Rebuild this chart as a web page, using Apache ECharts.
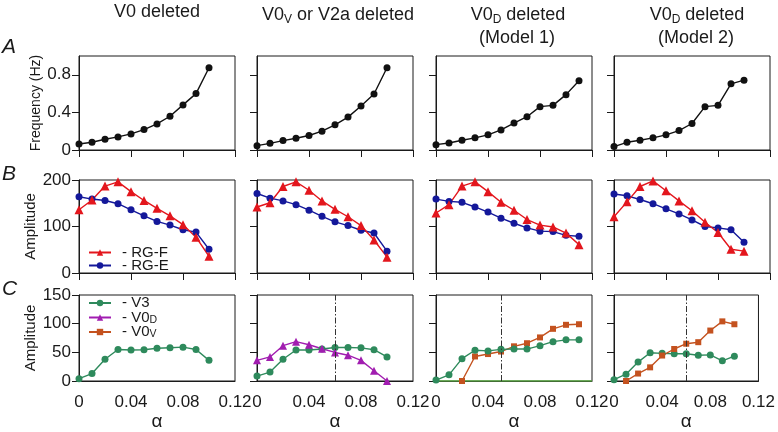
<!DOCTYPE html>
<html>
<head>
<meta charset="utf-8">
<script src="https://cdn.jsdelivr.net/npm/echarts@6/dist/echarts.min.js"></script>
<style>
  html, body { margin: 0; padding: 0; background: #fff; }
  #chart { width: 778px; height: 432px; }
</style>
</head>
<body>
<div id="chart"></div>
<script>
// ── Data ──────────────────────────────────────────────────────────────────
const alpha11 = [0, 0.01, 0.02, 0.03, 0.04, 0.05, 0.06, 0.07, 0.08, 0.09, 0.10]
const alpha12 = [0, 0.01, 0.02, 0.03, 0.04, 0.05, 0.06, 0.07, 0.08, 0.09, 0.10, 0.11]
const alphaEnds = [0, 0.12]

// row A – frequency (Hz)
const freqV0 = [0.064, 0.082, 0.114, 0.139, 0.171, 0.217, 0.277, 0.359, 0.48, 0.60, 0.875]
const freqV0V = [0.046, 0.071, 0.10, 0.125, 0.154, 0.20, 0.268, 0.35, 0.468, 0.596, 0.875]
const freqM1 = [0.057, 0.075, 0.104, 0.129, 0.161, 0.214, 0.286, 0.354, 0.461, 0.475, 0.589, 0.736]
const freqM2 = [0.036, 0.082, 0.104, 0.129, 0.161, 0.207, 0.282, 0.461, 0.475, 0.704, 0.743]

// row B – RG amplitudes
const rgfV0 = [136, 157, 187, 196, 175, 156, 139, 123, 104, 77, 36]
const rgeV0 = [164, 159, 156, 149, 136, 123, 111, 103, 93, 88, 51]
const rgfV0V = [142, 151, 186, 196, 178, 155, 137, 121, 102, 71, 34]
const rgeV0V = [171, 161, 155, 147, 135, 122, 110, 102, 92, 86, 47]
const rgfM1 = [129, 147, 187, 196, 175, 152, 135, 115, 103, 99, 86, 61]
const rgeM1 = [159, 154, 152, 142, 131, 118, 107, 97, 90, 89, 81, 79]
const rgfM2 = [121, 153, 186, 198, 177, 155, 134, 109, 87, 51, 47]
const rgeM2 = [170, 166, 158, 149, 138, 127, 114, 100, 97, 93, 66]

// row C – interneuron amplitudes
const v3V0 = [4, 13, 38, 55, 54, 54.5, 57, 58, 59, 55, 36]
const v3V0V = [8.6, 15.5, 38, 54, 54, 55.7, 58.4, 58.4, 57.8, 54.6, 42]
const v0dV0V = [36, 42, 61.6, 68.6, 63.3, 56.3, 49.8, 45, 36, 18, 0]
const v3M1 = [1.6, 10.7, 39, 53.6, 52.5, 55.2, 55.7, 55.7, 61.6, 68.6, 71.8, 71.8]
const v0vM1 = [null, null, 0, 42.8, 47, 51.4, 60.5, 65.9, 76, 91, 98, 99]
const v0dM1 = [0, 0]
const v3M2 = [2.2, 11.9, 33, 49.3, 48.2, 47.6, 47.6, 44.9, 45.5, 35.2, 43.3]
const v0vM2 = [null, 0, 13, 23.8, 44.4, 55.8, 65, 67.7, 88, 104, 99]

// dash-dot markers in row C
const cutoffs = [null, 0.06, 0.051, 0.062]

// axis ticks
const xTicks = { min: 0, max: 0.12, interval: 0.04 }
const freqTicks = [0, 0.4, 0.8]
const ampBTicks = { min: 0, max: 200, interval: 100 }
const ampCTicks = { min: 0, max: 150, interval: 50 }

// legend entries (one legend box each, stacked tight like the original)
const legendB = ['RG-F', 'RG-E']
const legendC = ['V3', 'V0D', 'V0V']

// ── Layout / styles ───────────────────────────────────────────────────────
const FONT = 'Liberation Sans, Arial, sans-serif'
const INK = '#1a1a1a'
const C = {
  black: '#111111',
  red: '#e3161d',
  blue: '#14189a',
  green: '#2e8a5c',
  purple: '#a11db0',
  orange: '#c4521f',
  lime: '#62b54a',
}
const colLefts = [79, 257, 436, 614]
const colW = 156
const rowTops = [56, 180, 295]
const rowH = [94, 93, 94]

const pairs = (xs, ys) => xs.map((x, i) => [x, ys[i]])

function line(name, idx, xs, ys, color, symbol, size) {
  return {
    name, type: 'line', xAxisIndex: idx, yAxisIndex: idx,
    data: pairs(xs, ys),
    symbol, symbolSize: size,
    lineStyle: { color, width: 1.4 },
    itemStyle: { color },
    animation: false,
  }
}

// ── Grids and axes ────────────────────────────────────────────────────────
const grids = [], xAxes = [], yAxes = []
for (let r = 0; r < 3; r++) {
  for (let c = 0; c < 4; c++) {
    const idx = r * 4 + c
    grids.push({
      left: colLefts[c], top: rowTops[r], width: colW, height: rowH[r],
      show: true, borderColor: INK, borderWidth: 1, containLabel: false,
    })
    xAxes.push({
      gridIndex: idx, type: 'value', ...xTicks,
      axisLine: { onZero: false, lineStyle: { color: INK } },
      axisTick: { show: r < 2, length: 7, lineStyle: { color: INK } },
      axisLabel: { show: r === 2, fontSize: 17, fontFamily: FONT, color: INK, margin: 13 },
      splitLine: { show: false },
      name: r === 2 ? 'α' : '', nameLocation: 'middle', nameGap: 31,
      nameTextStyle: { fontSize: 19, fontFamily: FONT, color: INK },
    })
    const y = {
      gridIndex: idx, type: 'value',
      axisLine: { show: true, lineStyle: { color: INK } },
      axisTick: { show: true, length: 7, lineStyle: { color: INK } },
      axisLabel: { show: c === 0, fontSize: 17, fontFamily: FONT, color: INK, margin: 8 },
      splitLine: { show: false },
      nameLocation: 'middle',
      nameTextStyle: { fontSize: 15, fontFamily: FONT, color: INK },
    }
    if (r === 0) {
      Object.assign(y, { min: 0, max: 1 })
      y.axisLabel.customValues = freqTicks
      y.axisTick.customValues = freqTicks
      if (c === 0) Object.assign(y, { name: 'Frequency (Hz)', nameGap: 36, nameTextStyle: { fontSize: 14, fontFamily: FONT, color: INK } })
    } else if (r === 1) {
      Object.assign(y, ampBTicks)
      if (c === 0) Object.assign(y, { name: 'Amplitude', nameGap: 36 })
    } else {
      Object.assign(y, ampCTicks)
      if (c === 0) Object.assign(y, { name: 'Amplitude', nameGap: 36 })
    }
    yAxes.push(y)
  }
}

// ── Series ────────────────────────────────────────────────────────────────
const series = [
  // row A
  line('freq', 0, alpha11, freqV0, C.black, 'circle', 7),
  line('freq', 1, alpha11, freqV0V, C.black, 'circle', 7),
  line('freq', 2, alpha12, freqM1, C.black, 'circle', 7),
  line('freq', 3, alpha11, freqM2, C.black, 'circle', 7),
  // row B
  line('RG-E', 4, alpha11, rgeV0, C.blue, 'circle', 7),
  line('RG-F', 4, alpha11, rgfV0, C.red, 'triangle', 9),
  line('RG-E', 5, alpha11, rgeV0V, C.blue, 'circle', 7),
  line('RG-F', 5, alpha11, rgfV0V, C.red, 'triangle', 9),
  line('RG-E', 6, alpha12, rgeM1, C.blue, 'circle', 7),
  line('RG-F', 6, alpha12, rgfM1, C.red, 'triangle', 9),
  line('RG-E', 7, alpha11, rgeM2, C.blue, 'circle', 7),
  line('RG-F', 7, alpha11, rgfM2, C.red, 'triangle', 9),
  // row C
  line('V3', 8, alpha11, v3V0, C.green, 'circle', 7),
  line('V3', 9, alpha11, v3V0V, C.green, 'circle', 7),
  line('V0D', 9, alpha11, v0dV0V, C.purple, 'triangle', 8),
  line('V0V', 10, alpha12, v0vM1, C.orange, 'rect', 6),
  line('V3', 10, alpha12, v3M1, C.green, 'circle', 7),
  line('V3', 11, alpha11, v3M2, C.green, 'circle', 7),
  line('V0V', 11, alpha11, v0vM2, C.orange, 'rect', 6),
  Object.assign(line('V0D model 1', 10, alphaEnds, v0dM1, C.lime, 'none', 0), { z: 3 }),
]

// dash-dot cutoff lines in row C
cutoffs.forEach((v, c) => {
  if (v == null) return
  series.push({
    type: 'line', xAxisIndex: 8 + c, yAxisIndex: 8 + c, data: [],
    markLine: {
      silent: true, symbol: 'none', animation: false,
      label: { show: false },
      lineStyle: { color: '#333', width: 1, type: [6, 2, 1.5, 2] },
      data: [{ xAxis: v }],
    },
  })
})

// ── Headings and panel letters ────────────────────────────────────────────
const sub = { fontSize: 12, fontFamily: FONT, lineHeight: 10, verticalAlign: 'bottom', fill: INK }
const heading = (x, y, text) => ({
  type: 'text', x, y,
  style: { text, fontSize: 18, fontFamily: FONT, fill: INK, align: 'center', verticalAlign: 'middle', lineHeight: 21, rich: { sub } },
})
const letter = (y, text) => ({
  type: 'text', x: 2, y,
  style: { text, font: 'italic 21px ' + FONT, fill: INK, verticalAlign: 'middle' },
})

const graphic = [
  heading(157, 12, 'V0 deleted'),
  heading(338, 15, 'V0{sub|V} or V2a deleted'),
  heading(518, 15, 'V0{sub|D} deleted'),
  heading(517, 38, '(Model 1)'),
  heading(697, 15, 'V0{sub|D} deleted'),
  heading(696, 38, '(Model 2)'),
  letter(47, 'A'),
  letter(174, 'B'),
  letter(289, 'C'),
]

// ── Legends ───────────────────────────────────────────────────────────────
const legendText = (n) => (n.startsWith('V0') ? '- V0{sub|' + n.slice(2) + '}' : '- ' + n)
const legendItem = (name, top) => ({
  data: [name], left: 88, top,
  orient: 'vertical', itemWidth: 22, itemHeight: 8,
  selectedMode: false, align: 'left', padding: 0,
  formatter: legendText,
  textStyle: {
    fontSize: 15, fontFamily: FONT, color: INK, lineHeight: 16, padding: [0, 0, 0, 6],
    rich: { sub: { fontSize: 10.5, fontFamily: FONT, color: INK, lineHeight: 8, verticalAlign: 'bottom' } },
  },
})
const legends = [
  ...legendB.map((n, i) => legendItem(n, 244.5 + i * 13)),
  ...legendC.map((n, i) => legendItem(n, 295 + i * 14.5)),
]

const chart = echarts.init(document.getElementById('chart'))
chart.setOption({
  animation: false,
  grid: grids,
  xAxis: xAxes,
  yAxis: yAxes,
  series,
  graphic,
  legend: legends,
})
</script>
</body>
</html>
